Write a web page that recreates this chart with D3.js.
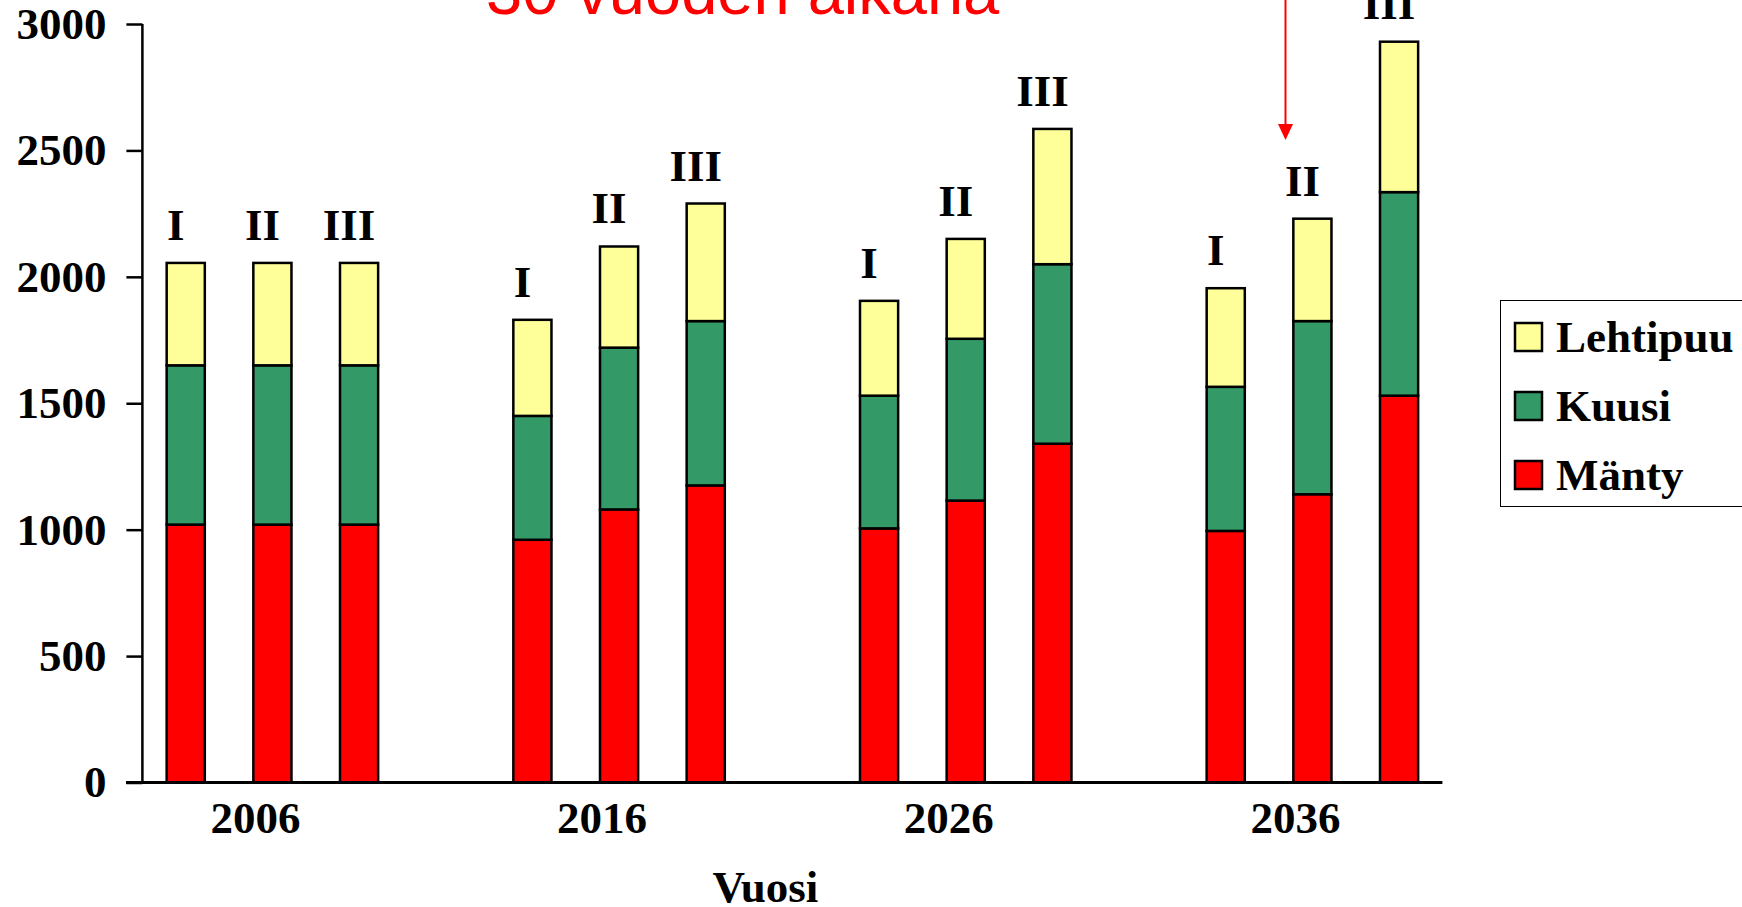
<!DOCTYPE html>
<html><head><meta charset="utf-8">
<script src="https://cdn.jsdelivr.net/npm/d3@7"></script>
<style>body{margin:0;background:#fff}svg{display:block}</style>
</head><body>
<svg id="c" width="1742" height="907"></svg>
<script>
const years = ["2006","2016","2026","2036"];
const scenarios = ["I","II","III"];
const seriesNames = ["Mänty","Kuusi","Lehtipuu"];
const seriesColors = ["#FF0000","#339966","#FFFF99"];
// values per bar, in order 2006 I,II,III, 2016 I,II,III, ...
const manty    = [1020,1020,1020, 960,1080,1175, 1005,1115,1340, 995,1140,1530];
const kuusi    = [ 630, 630, 630, 490, 640, 650,  525, 640, 710, 570, 685, 805];
const lehtipuu = [ 405, 405, 405, 380, 400, 465,  375, 395, 535, 390, 405, 595];
const yTicks = [0,500,1000,1500,2000,2500,3000];
const titleText = "30 vuoden aikana";
const xTitle = "Vuosi";

const svg = d3.select("#c");
const serif = "'Liberation Serif','Times New Roman',serif";
const FS = 45;

// slots: 3 bars + 1 gap per year, last gap dropped
const slots = [];
years.forEach((y,gi)=>{
  scenarios.forEach(s=>slots.push(y+"-"+s));
  if (gi < years.length-1) slots.push("gap-"+y);
});
const x = d3.scaleBand().domain(slots).range([142.4,1442.4]).padding(0);
const y = d3.scaleLinear().domain([0,3000]).range([782.5,24]);
const barW = x.bandwidth()*0.44;

const bars = [];
years.forEach((yr,gi)=>scenarios.forEach((s,si)=>{
  const i = gi*3+si;
  bars.push({key:yr+"-"+s, year:yr, scen:s, vals:[manty[i],kuusi[i],lehtipuu[i]]});
}));

// Title (red, partly cut at top)
svg.append("text").attr("x",486).attr("y",14)
  .attr("font-family","'Liberation Sans',Arial,sans-serif").attr("font-size",65)
  .attr("fill","#FF0000").text(titleText);

// red arrow
svg.append("line").attr("x1",1285.5).attr("x2",1285.5).attr("y1",0).attr("y2",128)
  .attr("stroke","#FF0000").attr("stroke-width",2);
svg.append("path").attr("d","M1278,124 L1293,124 L1285.5,140 Z").attr("fill","#FF0000");

// bars
const g = svg.append("g");
bars.forEach(b=>{
  let cum = 0;
  const cx = x(b.key)+x.bandwidth()/2;
  b.vals.forEach((v,k)=>{
    g.append("rect")
      .attr("x",cx-barW/2).attr("width",barW)
      .attr("y",y(cum+v)).attr("height",y(cum)-y(cum+v))
      .attr("fill",seriesColors[k]).attr("stroke","#000").attr("stroke-width",2.5);
    cum += v;
  });
  svg.append("text").attr("x",cx-10).attr("y",y(cum)-23)
    .attr("text-anchor","middle").attr("font-family",serif).attr("font-weight","bold")
    .attr("font-size",FS).text(b.scen);
});

// y axis
const ya = svg.append("g").attr("transform","translate(142.4,0)")
  .call(d3.axisLeft(y).tickValues(yTicks).tickSize(16).tickPadding(20).tickFormat(d3.format("d")));
ya.select(".domain").attr("stroke","#000").attr("stroke-width",2.5).attr("d","M0,"+y(3000)+"V"+y(0));
ya.selectAll(".tick line").attr("stroke","#000").attr("stroke-width",2.5);
ya.selectAll(".tick text").attr("font-family",serif).attr("font-weight","bold").attr("font-size",FS).attr("fill","#000");

// x axis line
svg.append("line").attr("x1",126).attr("x2",1442.4).attr("y1",y(0)).attr("y2",y(0))
  .attr("stroke","#000").attr("stroke-width",3);

// year labels
years.forEach(yr=>{
  const cx = x(yr+"-II")+x.bandwidth()/2 - 17;
  svg.append("text").attr("x",cx).attr("y",833).attr("text-anchor","middle")
    .attr("font-family",serif).attr("font-weight","bold").attr("font-size",FS).text(yr);
});
svg.append("text").attr("x",(142.4+1442.4)/2-27).attr("y",902).attr("text-anchor","middle")
  .attr("font-family",serif).attr("font-weight","bold").attr("font-size",FS).text(xTitle);

// legend
const lg = svg.append("g");
lg.append("rect").attr("x",1500.5).attr("y",300.5).attr("width",260).attr("height",206)
  .attr("fill","#fff").attr("stroke","#000").attr("stroke-width",1);
const order = [2,1,0];
order.forEach((k,i)=>{
  const top = 323 + i*69;
  lg.append("rect").attr("x",1515).attr("y",top).attr("width",27).attr("height",28)
    .attr("fill",seriesColors[k]).attr("stroke","#000").attr("stroke-width",2.5);
  lg.append("text").attr("x",1556).attr("y",top+28.5)
    .attr("font-family",serif).attr("font-weight","bold").attr("font-size",FS).text(seriesNames[k]);
});
</script>
</body></html>
